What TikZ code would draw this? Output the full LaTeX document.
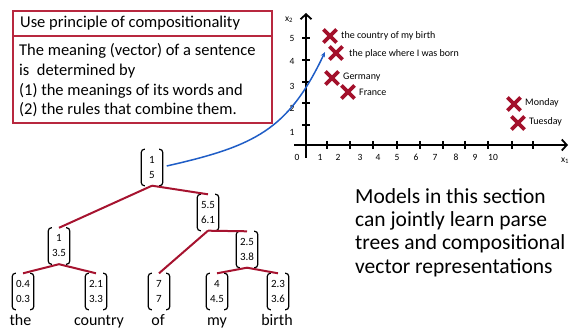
\documentclass[tikz,border=0pt]{standalone}
\usepackage{fontspec}
\setmainfont{Carlito}
\usetikzlibrary{arrows.meta,shapes.misc}
\definecolor{boxred}{HTML}{B8283F}
\definecolor{treered}{HTML}{A6132F}
\definecolor{markred}{HTML}{A3102B}
\definecolor{arrowblue}{HTML}{1F5DC6}

\begin{document}
\begin{tikzpicture}[x=1pt,y=-1pt,
  vec/.style={inner sep=0pt, minimum width=21pt, minimum height=36pt, align=center,
    font=\fontsize{11}{15}\selectfont},
  bracket/.style={line width=1.2pt, rounded corners=3pt},
  branch/.style={treered, line width=2pt},
  word/.style={anchor=base, inner sep=0pt, font=\fontsize{16}{18}\selectfont},
  axis/.style={line width=1.8pt, -{Straight Barb[length=5pt,width=11pt,line width=1.8pt]}},
  tickline/.style={line width=1.5pt},
  ticklab/.style={inner sep=0pt, font=\fontsize{9.5}{10}\selectfont},
  pointmark/.style={cross out, draw=markred, line width=3.7pt, minimum size=9.5pt, inner sep=0pt},
  ptlab/.style={anchor=west, inner sep=0pt, font=\fontsize{10}{12}\selectfont},
  boxtext/.style={anchor=base west, inner sep=0pt, align=left,
    font=\fontsize{16.5}{19.7}\selectfont},
]
\useasboundingbox (0,0) rectangle (569,328);

% principle box (multi-line nodes are anchored at their last baseline)
\draw[boxred, line width=1.4pt] (13,11) rectangle (272,123);
\draw[boxred, line width=1.4pt] (13,36) -- (272,36);
\node[boxtext] (title) at (20,28) {Use principle of compositionality};
\node[boxtext] (body) at (19,115) {The meaning (vector) of a sentence\\is\ \ determined by\\(1) the meanings of its words and\\(2) the rules that combine them.};

% axes
\draw[axis] (294,145) -- (568,145);
\draw[axis] (306,158) -- (306,13);
\foreach \y in {38,60,82,103,125} \draw[tickline] (302,\y) -- (310,\y);
\foreach \x in {327,350,373,397,420,443,465,488,512,533} \draw[tickline] (\x,141) -- (\x,149);
\foreach \x/\l in {297/0,320/1,338/2,360/3,378/4,397/5,416/6,435/7,456/8,475/9,493/10}
  \node[ticklab] at (\x,157) {\l};
\foreach \y/\l in {38/5,61/4,86/3,108/2,132/1}
  \node[ticklab] at (292,\y) {\l};
\node[ticklab] (xtwo) at (289,20) {x\textsubscript{2}};
\node[ticklab] (xone) at (565,161) {x\textsubscript{1}};

% embedded phrases and words
\node[pointmark] (pbirth) at (330,36) {};
\node[ptlab] at (341,36) {the country of my birth};
\node[pointmark] (pborn) at (336,53) {};
\node[ptlab] at (349,54) {the place where I was born};
\node[pointmark] (pger) at (332,78) {};
\node[ptlab] at (343,77) {Germany};
\node[pointmark] (pfra) at (348,92) {};
\node[ptlab] at (359,92) {France};
\node[pointmark] (pmon) at (514,104) {};
\node[ptlab] at (525,103) {Monday};
\node[pointmark] (ptue) at (518,123) {};
\node[ptlab] at (529,122) {Tuesday};

% parse tree vectors
\node[vec] (root) at (152,167.5) {1\\5};
\node[vec] (n55) at (208,212.5) {5.5\\6.1};
\node[vec] (n135) at (59,246) {1\\3.5};
\node[vec] (n25) at (247,249.5) {2.5\\3.8};
\node[vec] (l1) at (23,291.5) {0.4\\0.3};
\node[vec] (l2) at (96,291.5) {2.1\\3.3};
\node[vec] (l3) at (159,291.5) {7\\7};
\node[vec] (l4) at (217,291.5) {4\\4.5};
\node[vec] (l5) at (278,291.5) {2.3\\3.6};

\foreach \n in {root,n55,n135,n25,l1,l2,l3,l4,l5} {
  \draw[bracket] ([xshift=3.5pt]\n.north west) -- (\n.north west) -- (\n.south west) -- ([xshift=3.5pt]\n.south west);
  \draw[bracket] ([xshift=-3.5pt]\n.north east) -- (\n.north east) -- (\n.south east) -- ([xshift=-3.5pt]\n.south east);
}

% tree branches
\draw[branch] (root.south) -- (n135.north);
\draw[branch] (root.south) -- (n55.north);
\draw[branch] (n55.south) -- (l3.north);
\draw[branch] (n55.south) -- (n25.north);
\draw[branch] (n135.south) -- (l1.north);
\draw[branch] (n135.south) -- (l2.north);
\draw[branch] (n25.south) -- (l4.north);
\draw[branch] (n25.south) -- (l5.north);

% sentence words
\node[word] (wthe) at (20.5,325) {the};
\node[word] (wcountry) at (99,325) {country};
\node[word] (wof) at (158,325) {of};
\node[word] (wmy) at (217,325) {my};
\node[word] (wbirth) at (277,325) {birth};

% mapping of the sentence vector into the space
\coordinate (tip) at (325,52);
\draw[arrowblue, line width=1.5pt, -{Stealth[length=5pt,width=4.5pt]}]
  ([xshift=4pt,yshift=1.5pt]root.east) .. controls (255,146) and (288,130) .. (tip);

% remark
\node[anchor=base west, inner sep=0pt, align=left, font=\fontsize{21.5}{23.3}\selectfont] (remark) at (355,273)
  {Models in this section\\can jointly learn parse\\trees and compositional\\vector representations};
\end{tikzpicture}
\end{document}
